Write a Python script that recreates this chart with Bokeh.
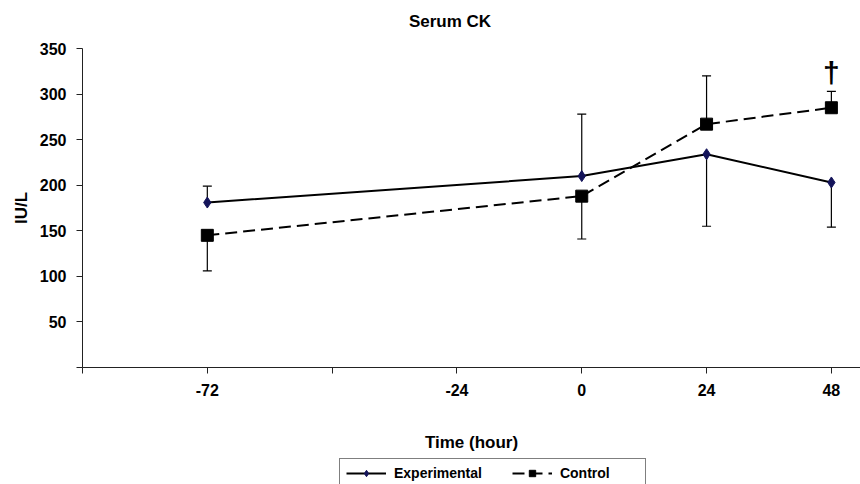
from bokeh.plotting import figure
from bokeh.layouts import column
from bokeh.models import ColumnDataSource, FixedTicker, Range1d, Legend, LegendItem, Label
from bokeh.core.properties import value
from bokeh.embed import file_html
from bokeh.resources import INLINE

hours = [-72, 0, 24, 48]
exp_mean = [181, 210, 234, 203]
exp_sd = [18, 68, 79, 49]
exp_side = [1, 1, -1, -1]
ctrl_mean = [145, 188, 267, 285]
ctrl_sd = [39, 47, 53, 18]
ctrl_side = [-1, -1, 1, 1]
x_ticks = [-96, -72, -48, -24, 0, 24, 48]
x_tick_labels = ["", "-72", "", "-24", "0", "24", "48"]
y_ticks = [0, 50, 100, 150, 200, 250, 300, 350]
y_tick_labels = ["", "50", "100", "150", "200", "250", "300", "350"]
sig_hour = [48]
sig_y = [324]
sig_mark = ["\u2020"]
chart_title = "Serum CK"

FONT = "Liberation Sans"

# title strip
tf = figure(width=860, height=34, output_backend="svg", toolbar_location=None,
            x_range=Range1d(0, 1), y_range=Range1d(0, 1), x_axis_type=None, y_axis_type=None,
            min_border=0)
tf.outline_line_color = None
tf.grid.grid_line_color = None
tf.add_layout(Label(x=367.5, y=13, x_units="screen", y_units="screen", text=chart_title,
                    text_font=FONT, text_font_size="17px", text_font_style="bold",
                    text_color="black", text_align="center", text_baseline="middle"))

p = figure(width=860, height=423, output_backend="svg", toolbar_location=None,
           x_range=Range1d(-96, 53.6), y_range=Range1d(0, 350),
           min_border_left=82, min_border_right=0, min_border_top=14, min_border_bottom=90)
p.outline_line_color = None
p.grid.grid_line_color = None
p.background_fill_color = "white"
p.border_fill_color = "white"

for ax in (p.xaxis[0], p.yaxis[0]):
    ax.axis_line_color = "#222222"
    ax.major_tick_line_color = "#222222"
    ax.major_tick_in = 0
    ax.major_tick_out = 6
    ax.minor_tick_line_color = None
    ax.major_label_text_font = FONT
    ax.major_label_text_font_size = "16px"
    ax.major_label_text_font_style = "bold"
    ax.major_label_text_color = "black"
    ax.axis_label_text_font = FONT
    ax.axis_label_text_font_size = "17px"
    ax.axis_label_text_font_style = "bold"
    ax.axis_label_text_color = "black"

p.xaxis.ticker = FixedTicker(ticks=x_ticks)
p.xaxis.major_label_overrides = {t: l for t, l in zip(x_ticks, x_tick_labels)}
p.yaxis.ticker = FixedTicker(ticks=y_ticks)
p.yaxis.major_label_overrides = {t: l for t, l in zip(y_ticks, y_tick_labels)}
p.xaxis.axis_label = "Time (hour)"
p.yaxis.axis_label = "IU/L"
p.xaxis.major_label_standoff = 10
p.xaxis.axis_label_standoff = 34
p.yaxis.major_label_standoff = 10
p.yaxis.axis_label_standoff = 6

# error bars
def bars(means, sds, sides):
    ends = [m + s * d for m, s, d in zip(means, sds, sides)]
    return ColumnDataSource(dict(x=hours, y0=means, y1=ends))

for src in (bars(exp_mean, exp_sd, exp_side), bars(ctrl_mean, ctrl_sd, ctrl_side)):
    p.segment(x0="x", y0="y0", x1="x", y1="y1", source=src, line_color="black", line_width=1.2)
    p.scatter(x="x", y="y1", source=src, marker="dash", size=9, line_color="black", line_width=1.2)

ctrl_line = p.line(hours, ctrl_mean, line_color="black", line_width=2, line_dash="12 6")
ctrl_pts = p.scatter(hours, ctrl_mean, marker="square", size=12, fill_color="black", line_color="black")
exp_line = p.line(hours, exp_mean, line_color="black", line_width=2)
exp_pts = p.scatter(hours, exp_mean, marker="diamond", size=11, fill_color="#14145a", line_color="#14145a")

p.text(sig_hour, sig_y, text=sig_mark, text_font=value(FONT), text_font_size="30px",
       text_font_style="bold", text_align="center", text_baseline="middle", text_color="black")

# legend strip below the chart (cut at the window's bottom edge as in the reference);
# the same series are drawn there out of view so the legend can show their glyphs
lf = figure(width=860, height=27, output_backend="svg", toolbar_location=None,
            x_range=Range1d(1000, 1001), y_range=Range1d(0, 1), x_axis_type=None, y_axis_type=None,
            min_border=0)
lf.outline_line_color = None
lf.grid.grid_line_color = None
le_line = lf.line(hours, exp_mean, line_color="black", line_width=2)
le_pts = lf.scatter(hours, exp_mean, marker="diamond", size=9, fill_color="#14145a", line_color="#14145a")
lc_line = lf.line(hours, ctrl_mean, line_color="black", line_width=2, line_dash="12 6")
lc_pts = lf.scatter(hours, ctrl_mean, marker="square", size=9, fill_color="black", line_color="black")

legend = Legend(items=[LegendItem(label="Experimental", renderers=[le_line, le_pts]),
                       LegendItem(label="Control", renderers=[lc_line, lc_pts])],
                orientation="horizontal", location=(257, -4))
legend.label_text_font = FONT
legend.label_text_font_size = "14px"
legend.label_text_font_style = "bold"
legend.label_text_color = "black"
legend.border_line_color = "black"
legend.border_line_width = 1
legend.glyph_width = 40
legend.glyph_height = 16
legend.label_width = 79
legend.margin = 0
legend.padding = 6
legend.spacing = 30
legend.label_standoff = 8
lf.add_layout(legend, "center")

open("out.html", "w").write(file_html(column(tf, p, lf, spacing=0), INLINE))
